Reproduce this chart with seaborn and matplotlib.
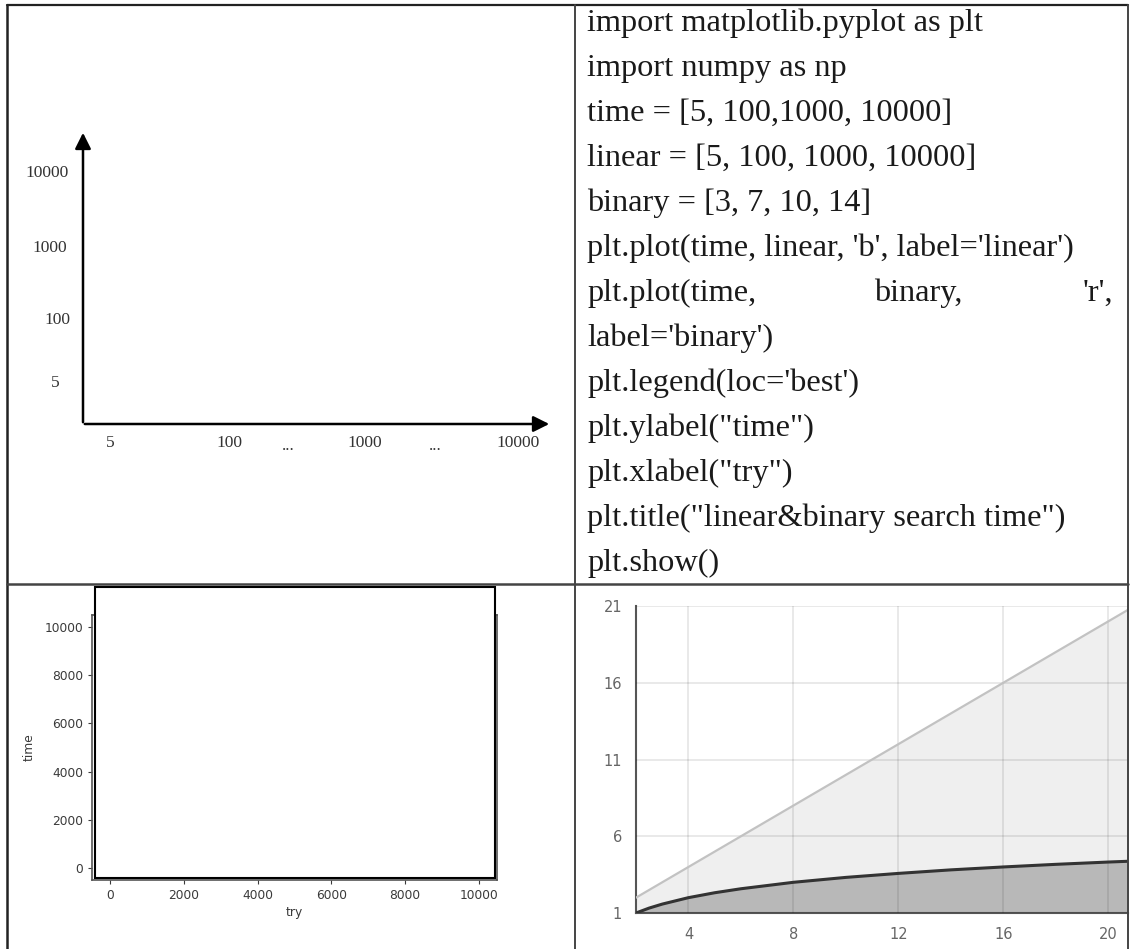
import matplotlib
matplotlib.use("Agg")
import matplotlib.pyplot as plt
from matplotlib.patches import Rectangle
import seaborn as sns
import pandas as pd

# values from the code cell (bottom-left plot)
time = [5, 100, 1000, 10000]
linear = [5, 100, 1000, 10000]
binary = [3, 7, 10, 14]

# hand-drawn sketch labels (top-left)
sketch_y_labels = ["10000", "1000", "100", "5"]
sketch_x_labels = ["5", "100", "...", "1000", "...", "10000"]

# code lines (top-right)
code_lines = [
    "import matplotlib.pyplot as plt",
    "import numpy as np",
    "time = [5, 100,1000, 10000]",
    "linear = [5, 100, 1000, 10000]",
    "binary = [3, 7, 10, 14]",
    "plt.plot(time, linear, 'b', label='linear')",
    None,  # justified line drawn in pieces
    "label='binary')",
    "plt.legend(loc='best')",
    'plt.ylabel("time")',
    'plt.xlabel("try")',
    'plt.title("linear&binary search time")',
    "plt.show()",
]

# bottom-right chart: O(n) vs O(log n)
n_vals = [2, 2.5, 3, 4, 5, 6, 8, 10, 12, 14, 16, 18, 20, 20.75]
n_linear = [2, 2.5, 3, 4, 5, 6, 8, 10, 12, 14, 16, 18, 20, 20.75]
n_log = [1.0, 1.32, 1.58, 2.0, 2.32, 2.58, 3.0, 3.32, 3.58, 3.81, 4.0, 4.17, 4.32, 4.37]

sns.set_theme(style="ticks")
plt.rcParams['font.family'] = ['DejaVu Sans']

W, H = 1130, 949
fig = plt.figure(figsize=(W / 100, H / 100), dpi=100)


def px_axes(l, t, r, b, **kw):
    return fig.add_axes([l / W, 1 - b / H, (r - l) / W, (b - t) / H], **kw)


# --- bottom-left: matplotlib screenshot ---
bl = px_axes(92, 615, 497, 880, zorder=1)
df = pd.DataFrame({
    'try': time + time,
    'time': linear + binary,
    'series': ['linear'] * 4 + ['binary'] * 4,
})
sns.lineplot(data=df, x='try', y='time', hue='series',
             palette={'linear': 'b', 'binary': 'r'}, ax=bl, legend=False)
bl.set_xticks([0, 2000, 4000, 6000, 8000, 10000])
bl.set_yticks([0, 2000, 4000, 6000, 8000, 10000])
bl.tick_params(labelsize=8.8, colors='#3a3a3a', length=3, width=0.8)
for sp in bl.spines.values():
    sp.set_color('#555')
    sp.set_linewidth(1.2)
bl.set_xlabel("try", fontsize=8.8, color='#3a3a3a', labelpad=3)
bl.set_ylabel("time", fontsize=8.8, color='#3a3a3a', labelpad=6)

# --- bottom-right: growth chart ---
br = px_axes(636, 606, 1128, 913, zorder=1)
br.fill_between(n_vals, 1, n_linear, color='#efefef', lw=0, zorder=1)
br.fill_between(n_vals, 1, n_log, color='#b8b8b8', lw=0, zorder=1.2)
sns.lineplot(x=n_vals, y=n_linear, ax=br, color='#c2c2c2', lw=1.6, zorder=3)
sns.lineplot(x=n_vals, y=n_log, ax=br, color='#333333', lw=2.2, zorder=3)
br.set_xlim(2, 20.75)
br.set_ylim(1, 21)
br.set_xticks([4, 8, 12, 16, 20])
br.set_yticks([1, 6, 11, 16, 21])
br.set_axisbelow(False)
br.grid(True, color='black', alpha=0.1, lw=1.2)
br.tick_params(length=0, labelsize=10.5, colors='#666', pad=10)
br.spines['top'].set_visible(False)
br.spines['right'].set_visible(False)
br.spines['left'].set_color('#555')
br.spines['bottom'].set_color('#555')
br.spines['left'].set_linewidth(1.5)
br.spines['bottom'].set_linewidth(1.5)

# --- overlay in pixel coordinates: table, sketch, code ---
ov = fig.add_axes([0, 0, 1, 1], zorder=10)
ov.set_xlim(0, W)
ov.set_ylim(H, 0)
ov.axis('off')
ov.patch.set_alpha(0)

# white box covering the plotted lines
ov.add_patch(Rectangle((95, 587), 400, 291, fc='white', ec='black', lw=1.5))

# table grid
tc = '#222222'
ov.plot([7, 1128], [5, 5], color=tc, lw=1.6)
ov.plot([7, 7], [5, 949], color=tc, lw=1.8)
ov.plot([575, 575], [5, 949], color='#444', lw=1.4)
ov.plot([1128, 1128], [5, 949], color='#444', lw=1.4)
ov.plot([7, 1128], [584, 584], color='#444', lw=1.8)

# sketch axes with arrows
ov.annotate("", xy=(83, 130), xytext=(83, 425),
            arrowprops=dict(arrowstyle='-|>', color='black', lw=1.8, mutation_scale=24))
ov.annotate("", xy=(552, 424), xytext=(82, 424),
            arrowprops=dict(arrowstyle='-|>', color='black', lw=1.8, mutation_scale=24))
serif = ['Liberation Serif', 'DejaVu Serif']
for lab, (x, y) in zip(sketch_y_labels, [(47, 173), (50, 248), (57, 320), (55, 383)]):
    ov.text(x, y, lab, ha='center', va='center', fontsize=12.5, family=serif, color='#333')
for lab, (x, y) in zip(sketch_x_labels, [(110, 443), (229, 443), (288, 446), (365, 443), (435, 446), (518, 443)]):
    ov.text(x, y, lab, ha='center', va='center', fontsize=12.5, family=serif, color='#333')

# code text
fs = 23.3
for i, line in enumerate(code_lines):
    yb = 31 + 45 * i
    if line is None:
        ov.text(587, yb, "plt.plot(time,", fontsize=fs, family=serif, color='#1a1a1a', va='baseline')
        ov.text(874, yb, "binary,", fontsize=fs, family=serif, color='#1a1a1a', va='baseline')
        ov.text(1113, yb, "'r',", fontsize=fs, family=serif, color='#1a1a1a', va='baseline', ha='right')
    else:
        ov.text(587, yb, line, fontsize=fs, family=serif, color='#1a1a1a', va='baseline')

fig.savefig("out.png", dpi=100)
